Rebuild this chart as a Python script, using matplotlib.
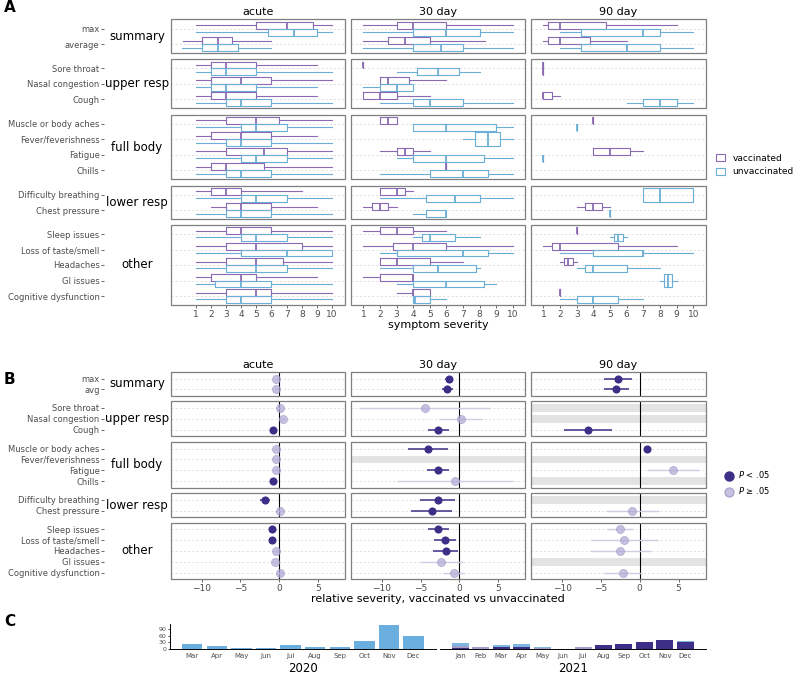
import numpy as np
import matplotlib
matplotlib.use("Agg")
import matplotlib.pyplot as plt
from matplotlib.patches import Rectangle, Patch
from matplotlib.lines import Line2D

nan = np.nan

# ---- data ----
groups = ["summary", "upper resp", "full body", "lower resp", "other"]
symptoms_a = [["max", "average"],
              ["Sore throat", "Nasal congestion", "Cough"],
              ["Muscle or body aches", "Fever/feverishness", "Fatigue", "Chills"],
              ["Difficulty breathing", "Chest pressure"],
              ["Sleep issues", "Loss of taste/smell", "Headaches", "GI issues", "Cognitive dysfunction"]]
symptoms_b = [["max", "avg"]] + symptoms_a[1:]
timepoints = ["acute", "30 day", "90 day"]

# box stats (whislo, q1, med, q3, whishi), in flattened symptom order; None = no data
acute_vac = [(1, 5, 7, 8.75, 10), (0.15, 1.4, 2.45, 3.4, 6),
             (1, 2, 3, 5, 9), (1, 2, 4, 6, 10), (1, 2, 3, 5, 9),
             (1, 3, 5, 6.5, 10), (1, 2, 4, 6, 9), (1, 3, 5.5, 7, 10), (1, 2, 3, 5.5, 10),
             (1, 2, 3, 4, 8), (2, 3, 4, 6, 9),
             (1, 3, 4, 6, 10), (1, 3, 5, 8, 10), (1, 3, 5, 6.75, 10), (1, 2, 4, 5, 9), (1, 3, 5, 6, 10)]
acute_unvac = [(1, 5.75, 7.5, 9, 10), (0.1, 1.4, 2.5, 3.8, 6),
               (1, 2, 3, 5, 10), (1, 2, 3, 5, 9), (1, 3, 4, 6, 10),
               (1, 4, 5, 7, 10), (1, 3, 4, 6, 10), (1, 4, 5, 7, 10), (1, 3, 4, 6, 10),
               (1, 4, 5, 7, 10), (1, 3, 4, 6, 10),
               (1, 4, 5, 7, 10), (1, 4, 7, 10, 10), (1, 3, 5, 7, 10), (1, 2.25, 4, 6, 10), (1, 3, 4, 6, 10)]
d30_vac = [(1, 3, 4, 6, 10), (1, 2.5, 3.5, 5, 8.3),
           (1, 1, 1, 1, 1), (2, 2, 2.5, 3.75, 6), (1, 1, 2, 3, 5),
           (2, 2, 2.5, 3, 3), None, (2, 3, 3.5, 4, 5), (6, 6, 6, 6, 6),
           (2, 2, 3, 3.5, 4), (1, 1.5, 2, 2.5, 3),
           (1, 2, 3, 4, 6), (1, 2.75, 4, 6, 10), (2, 2, 3, 5, 7), (1, 2, 4, 4, 4), (3, 4, 4, 5, 5)]
d30_unvac = [(1, 4, 6, 8, 10), (1, 4, 5.7, 7, 10),
             (3, 4.25, 5.5, 6.75, 8), (1, 2, 3, 4, 4), (2, 4, 5, 7, 10),
             (4, 4, 6, 9, 10), (7, 7.7, 8.5, 9.25, 10), (3, 4, 6, 8.25, 10), (2, 5, 7, 8.5, 10),
             (2, 4.75, 6.5, 8, 10), (4, 4.75, 6, 6, 6),
             (4, 4.5, 5, 6.5, 8), (2, 3, 7, 8.5, 10), (2, 4, 5.5, 7.75, 8), (3, 4, 6, 8.25, 9), (4, 4, 4.1, 5, 6)]
d90_vac = [(1, 1.25, 2, 4.75, 9), (1, 1.25, 2, 3.8, 6),
           (1, 1, 1, 1, 1), None, (1, 1, 1, 1.5, 2),
           (4, 4, 4, 4, 4), None, (4, 4, 5, 6.2, 7), None,
           None, (3, 3.5, 4, 4.5, 5),
           (3, 3, 3, 3, 3), (1, 1.5, 2, 5.5, 9), (2, 2.25, 2.5, 2.75, 3), None, (2, 2, 2, 2, 2)]
d90_unvac = [(2, 3.25, 7, 8, 10), (2, 3.25, 6, 8, 10),
             None, None, (6, 7, 8, 9, 10),
             (3, 3, 3, 3, 3), None, (1, 1, 1, 1, 1), None,
             (7, 7, 8, 10, 10), (5, 5, 5, 5, 5),
             (5, 5.25, 5.5, 5.75, 6), (2, 4, 7, 7, 10), (3, 3.5, 4, 6, 8), (8, 8.25, 8.5, 8.75, 9), (2, 3, 4, 5.5, 7)]
box_vac = [acute_vac, d30_vac, d90_vac]
box_unvac = [acute_unvac, d30_unvac, d90_unvac]

# relative severity estimates
est_acute = [-0.35, -0.35, 0.05, 0.45, -0.75, -0.4, -0.4, -0.4, -0.75, -1.85, 0.05, -0.95, -0.9, -0.45, -0.5, 0.1]
lo_acute = [-0.6, -0.6, -0.3, 0.1, -1.1, -0.7, -0.7, -0.7, -1.1, -2.5, -0.5, -1.3, -1.25, -0.8, -0.9, -0.3]
hi_acute = [-0.1, -0.1, 0.4, 0.8, -0.4, -0.1, -0.1, -0.1, -0.4, -1.2, 0.5, -0.6, -0.55, -0.1, -0.1, 0.5]
sig_acute = [0, 0, 0, 0, 1, 0, 0, 0, 1, 1, 0, 1, 1, 0, 0, 0]
est_30 = [-1.35, -1.6, -4.5, 0.2, -2.8, -4.0, nan, -2.8, -0.55, -2.8, -3.6, -2.8, -1.85, -1.8, -2.35, -0.7]
lo_30 = [-1.85, -2.3, -13.0, -2.7, -4.1, -6.6, nan, -4.2, -8.0, -5.1, -6.2, -4.1, -3.3, -3.4, -5.1, -2.1]
hi_30 = [-0.8, -0.85, 4.0, 2.9, -1.4, -1.5, nan, -1.4, 6.9, -0.55, -1.0, -1.35, -0.5, -0.2, 0.5, 0.6]
sig_30 = [1, 1, 0, 0, 1, 1, 0, 1, 0, 1, 1, 1, 1, 1, 0, 0]
est_90 = [-2.8, -3.05, nan, nan, -6.65, 1.0, nan, 4.25, nan, nan, -1.0, -2.5, -2.0, -2.5, nan, -2.1]
lo_90 = [-4.55, -4.6, nan, nan, -9.7, 1.0, nan, 0.95, nan, nan, -4.4, -4.2, -6.3, -6.4, nan, -4.55]
hi_90 = [-1.0, -1.4, nan, nan, -3.6, 1.0, nan, 7.6, nan, nan, 2.45, -0.8, 2.3, 1.5, nan, 0.3]
sig_90 = [1, 1, 0, 0, 1, 1, 0, 0, 0, 0, 0, 0, 0, 0, 0, 0]
est_b = [est_acute, est_30, est_90]
lo_b = [lo_acute, lo_30, lo_90]
hi_b = [hi_acute, hi_30, hi_90]
sig_b = [sig_acute, sig_30, sig_90]

# cases per month
months_2020 = ["Mar", "Apr", "May", "Jun", "Jul", "Aug", "Sep", "Oct", "Nov", "Dec"]
cases_2020 = [20, 11, 5, 1, 16, 8, 6, 35, 110, 58]
months_2021 = ["Jan", "Feb", "Mar", "Apr", "May", "Jun", "Jul", "Aug", "Sep", "Oct", "Nov", "Dec"]
vac_2021 = [4, 0, 6, 8, 0, 0, 0, 18, 20, 31, 38, 33]
partial_2021 = [8, 6, 2, 0, 5, 0, 7, 0, 0, 0, 0, 0]
unvac_2021 = [14, 2, 9, 12, 1, 0, 1, 0, 0, 2, 1, 3]

# ---- layout ----
W, H = 799, 675
PURPLE = "#8a6bb3"
BLUE = "#6baed6"
DARK = "#3d2f87"
LIGHT = "#b3acd6"
GREY = "#4d4d4d"
BORDER = "#7f7f7f"

col_x = [(170.7, 345), (351, 525.3), (531, 705.7)]
rows_a = [(19.3, 53.3), (59.3, 108.3), (114.7, 179.3), (185.7, 219.3), (224.7, 305.3)]
rows_b = [(372.3, 395.7), (401.3, 436.3), (442, 487.7), (493.3, 517.3), (522.7, 579.3)]
xlim_a = [(-0.65, 10.85), (0.25, 10.75), (0.25, 10.75)]


def rect(x0, y0, x1, y1):
    return [x0 / W, 1 - y1 / H, (x1 - x0) / W, (y1 - y0) / H]


def style_panel(ax, labels, first_col, last_row, n):
    for s in ax.spines.values():
        s.set_visible(False)
    ax.add_patch(Rectangle((0, 0), 1, 1, transform=ax.transAxes, fill=False,
                           ec=BORDER, lw=0.9, clip_on=False, zorder=5))
    ax.spines["left"].set_position(("outward", 48))
    ax.set_yticks(range(n))
    if first_col:
        ax.set_yticklabels(labels, fontsize=6, color=GREY)
        ax.tick_params(axis="y", length=2, width=0.6, color=GREY, pad=1.2)
    else:
        ax.set_yticklabels([])
        ax.tick_params(axis="y", length=0)
    for k in range(n):
        ax.axhline(k, color="#d4d4d4", lw=0.5, ls=(0, (3, 3)), zorder=0)
    if not last_row:
        ax.set_xticks([])


plt.rcParams["font.family"] = "DejaVu Sans"
fig = plt.figure(figsize=(W / 100, H / 100), dpi=100)

# ---- panel A ----
start = 0
for gi, syms in enumerate(symptoms_a):
    n = len(syms)
    y0, y1 = rows_a[gi]
    for ci in range(3):
        ax = fig.add_axes(rect(col_x[ci][0], y0, col_x[ci][1], y1))
        for k in range(n):
            v = box_vac[ci][start + k]
            u = box_unvac[ci][start + k]
            items = []
            if v is not None and u is not None:
                items = [(v, PURPLE, k - 0.225, 0.45), (u, BLUE, k + 0.225, 0.45)]
            elif v is not None:
                items = [(v, PURPLE, k, 0.9)]
            elif u is not None:
                items = [(u, BLUE, k, 0.9)]
            for st, c, pos, w in items:
                stats = dict(whislo=st[0], q1=st[1], med=st[2], q3=st[3], whishi=st[4])
                ax.bxp([stats], positions=[pos], widths=[w], orientation="horizontal",
                       showfliers=False, showcaps=False, manage_ticks=False,
                       boxprops=dict(color=c, lw=0.8),
                       whiskerprops=dict(color=c, lw=0.8),
                       medianprops=dict(color=c, lw=1.3))
        ax.set_xlim(*xlim_a[ci])
        ax.set_ylim(n - 0.4, -0.6)
        style_panel(ax, syms, ci == 0, gi == 4, n)
        if gi == 4:
            ax.set_xticks(range(1, 11))
            ax.tick_params(axis="x", labelsize=6.5, labelcolor=GREY, length=2,
                           width=0.6, color=GREY, pad=1.5)
        if gi == 0:
            ax.set_title(timepoints[ci], fontsize=8, pad=3)
    fig.text(137 / W, 1 - (y0 + y1) / 2 / H, groups[gi], fontsize=8.5,
             ha="center", va="center")
    start += n

fig.text(438 / W, 1 - 325 / H, "symptom severity", fontsize=8, ha="center", va="center")

fig.legend(handles=[Patch(facecolor="white", edgecolor=PURPLE, lw=0.8, label="vaccinated"),
                    Patch(facecolor="white", edgecolor=BLUE, lw=0.8, label="unvaccinated")],
           loc="center left", bbox_to_anchor=(708 / W, 1 - 165 / H), frameon=False,
           fontsize=6.5, handlelength=1.0, handleheight=0.8, handletextpad=0.8,
           labelspacing=0.5)

# ---- panel B ----
start = 0
for gi, syms in enumerate(symptoms_b):
    n = len(syms)
    y0, y1 = rows_b[gi]
    for ci in range(3):
        ax = fig.add_axes(rect(col_x[ci][0], y0, col_x[ci][1], y1))
        for k in range(n):
            e = est_b[ci][start + k]
            if np.isnan(e):
                ax.axhspan(k - 0.35, k + 0.35, color="#e3e3e3", lw=0, zorder=0.5)
                continue
            lo, hi = lo_b[ci][start + k], hi_b[ci][start + k]
            if sig_b[ci][start + k]:
                ax.plot([lo, hi], [k, k], color=DARK, lw=1.1, zorder=2, solid_capstyle="butt")
                ax.scatter([e], [k], s=34, color=DARK, zorder=3, lw=0)
            else:
                ax.plot([lo, hi], [k, k], color="#cfcbe2", lw=1.0, zorder=2, solid_capstyle="butt")
                ax.scatter([e], [k], s=34, facecolor=LIGHT, edgecolor="#9d95c6",
                           lw=0.5, alpha=0.75, zorder=3)
        ax.axvline(0, color="black", lw=0.8, zorder=1.5)
        ax.set_xlim(-14, 8.5)
        ax.set_ylim(n - 0.4, -0.6)
        style_panel(ax, syms, ci == 0, gi == 4, n)
        if gi == 4:
            ax.set_xticks([-10, -5, 0, 5])
            ax.tick_params(axis="x", labelsize=6.5, labelcolor=GREY, length=2,
                           width=0.6, color=GREY, pad=1.5)
        if gi == 0:
            ax.set_title(timepoints[ci], fontsize=8, pad=3)
    fig.text(137 / W, 1 - (y0 + y1) / 2 / H, groups[gi], fontsize=8.5,
             ha="center", va="center")
    start += n

fig.text(438 / W, 1 - 599 / H, "relative severity, vaccinated vs unvaccinated",
         fontsize=8, ha="center", va="center")

fig.legend(handles=[Line2D([], [], marker="o", ls="none", color=DARK, ms=6.5, label="$P$ < .05"),
                    Line2D([], [], marker="o", ls="none", markerfacecolor=LIGHT,
                           markeredgecolor="#9d95c6", alpha=0.75, ms=6.5, label="$P$ ≥ .05")],
           loc="center left", bbox_to_anchor=(717 / W, 1 - 483 / H), frameon=False,
           fontsize=6, handlelength=1.0, handletextpad=0.6, labelspacing=0.6)

# ---- panel C ----
ax20 = fig.add_axes(rect(170, 624.3, 435.7, 649))
x20 = np.arange(len(months_2020))
ax20.bar(x20, cases_2020, width=0.83, color="#6aaee0")
ax20.set_xlim(-0.9, 9.9)
ax20.set_ylim(-2, 114)
ax20.set_yticks([0, 30, 60, 90])
ax20.set_xticks(x20)
ax20.set_xticklabels(months_2020)
ax20.tick_params(axis="y", labelsize=4.5, labelcolor=GREY, length=1.5, width=0.5, pad=1)
ax20.tick_params(axis="x", labelsize=5, labelcolor=GREY, length=0, pad=3)
for s in ["top", "right"]:
    ax20.spines[s].set_visible(False)
ax20.spines["left"].set_linewidth(0.7)
ax20.spines["bottom"].set_linewidth(0.7)
ax20.set_xlabel("2020", fontsize=8.5, labelpad=2)

ax21 = fig.add_axes(rect(440, 624.3, 705.7, 649))
x21 = np.arange(len(months_2021))
ax21.bar(x21, vac_2021, width=0.83, color=DARK)
ax21.bar(x21, partial_2021, width=0.83, bottom=vac_2021, color="#a69dc8")
ax21.bar(x21, unvac_2021, width=0.83,
         bottom=np.add(vac_2021, partial_2021), color="#7db5e3")
ax21.set_xlim(-1, 12)
ax21.set_ylim(-2, 114)
ax21.set_yticks([])
ax21.set_xticks(x21)
ax21.set_xticklabels(months_2021)
ax21.tick_params(axis="x", labelsize=5, labelcolor=GREY, length=0, pad=3)
for s in ["top", "right", "left"]:
    ax21.spines[s].set_visible(False)
ax21.spines["bottom"].set_linewidth(0.7)
ax21.set_xlabel("2021", fontsize=8.5, labelpad=2)

# panel letters
fig.text(4 / W, 1 - 8 / H, "A", fontsize=11, fontweight="bold", va="center")
fig.text(4 / W, 1 - 379 / H, "B", fontsize=11, fontweight="bold", va="center")
fig.text(4 / W, 1 - 621 / H, "C", fontsize=11, fontweight="bold", va="center")

fig.savefig("out.png", dpi=100)
